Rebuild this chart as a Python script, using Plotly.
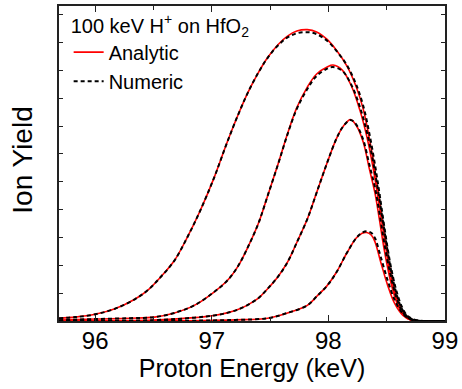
import plotly.graph_objects as go

# Energy grids (keV) and ion yields (arb. units) for the four depth spectra
E1 = [95.69, 95.83, 96.0, 96.17, 96.34, 96.45, 96.56, 96.68, 96.79, 96.90,
      97.02, 97.13, 97.23, 97.31, 97.40, 97.48, 97.57, 97.65, 97.73, 97.82,
      97.90, 97.99, 98.07, 98.16, 98.24, 98.30, 98.35, 98.40, 98.44, 98.48,
      98.53, 98.58, 98.63, 98.68, 98.74, 98.82, 99.0]
A1 = [0.10, 0.14, 0.24, 0.44, 0.78, 1.10, 1.57, 2.17, 3.0, 3.95,
      5.14, 6.39, 7.44, 8.20, 8.92, 9.46, 9.93, 10.23, 10.41, 10.46,
      10.38, 10.11, 9.72, 9.15, 8.4, 7.6, 6.6, 5.4, 4.3, 3.1,
      1.85, 0.95, 0.4, 0.13, 0.03, 0.0, 0.0]
N1 = [0.10, 0.14, 0.24, 0.44, 0.78, 1.10, 1.57, 2.17, 3.0, 3.95,
      5.14, 6.39, 7.44, 8.20, 8.92, 9.45, 9.90, 10.18, 10.33, 10.37,
      10.30, 10.06, 9.70, 9.18, 8.48, 7.72, 6.78, 5.62, 4.55, 3.4,
      2.1, 1.15, 0.52, 0.18, 0.05, 0.0, 0.0]

E2 = [95.69, 96.0, 96.3, 96.51, 96.68, 96.85, 97.02, 97.14, 97.23, 97.31,
      97.40, 97.48, 97.57, 97.65, 97.73, 97.82, 97.90, 97.99, 98.04, 98.12,
      98.20, 98.27, 98.33, 98.38, 98.43, 98.48, 98.53, 98.58, 98.63, 98.68,
      98.74, 98.82, 99.0]
A2 = [0.03, 0.07, 0.10, 0.14, 0.29, 0.56, 1.04, 1.48, 2.0, 2.65,
      3.5, 4.5, 5.65, 6.72, 7.66, 8.40, 8.87, 9.12, 9.19, 9.01,
      8.42, 7.58, 6.63, 5.6, 4.35, 3.0, 1.75, 0.88, 0.36, 0.11,
      0.02, 0.0, 0.0]
N2 = [0.03, 0.07, 0.10, 0.14, 0.29, 0.56, 1.04, 1.48, 2.0, 2.65,
      3.5, 4.5, 5.64, 6.70, 7.62, 8.33, 8.80, 9.06, 9.12, 8.98,
      8.46, 7.70, 6.80, 5.82, 4.6, 3.28, 2.0, 1.05, 0.45, 0.15,
      0.03, 0.0, 0.0]

E3 = [95.69, 96.5, 96.85, 97.02, 97.14, 97.23, 97.31, 97.40, 97.48, 97.57,
      97.65, 97.73, 97.82, 97.90, 97.99, 98.07, 98.13, 98.19, 98.24, 98.30,
      98.35, 98.40, 98.44, 98.48, 98.53, 98.58, 98.63, 98.68, 98.74, 98.82,
      99.0]
A3 = [0.01, 0.03, 0.12, 0.2, 0.3, 0.42, 0.58, 0.82, 1.16, 1.6,
      2.11, 2.82, 3.66, 4.61, 5.68, 6.55, 7.0, 7.23, 7.02, 6.42,
      5.5, 4.6, 3.6, 2.55, 1.5, 0.75, 0.3, 0.09, 0.02, 0.0,
      0.0]
N3 = [0.01, 0.03, 0.12, 0.2, 0.3, 0.42, 0.58, 0.82, 1.16, 1.6,
      2.11, 2.82, 3.66, 4.61, 5.68, 6.55, 7.0, 7.22, 7.05, 6.50,
      5.65, 4.8, 3.85, 2.8, 1.72, 0.9, 0.38, 0.12, 0.03, 0.0,
      0.0]

E4 = [95.69, 96.8, 97.2, 97.48, 97.65, 97.82, 97.90, 97.99, 98.07, 98.16,
      98.24, 98.29, 98.33, 98.37, 98.40, 98.45, 98.51, 98.57, 98.64, 98.71,
      98.8, 99.0]
A4 = [0.0, 0.01, 0.04, 0.1, 0.29, 0.56, 0.88, 1.27, 1.75, 2.45,
      2.98, 3.15, 3.18, 3.08, 2.85, 2.11, 1.27, 0.62, 0.2, 0.03,
      0.0, 0.0]
N4 = [0.0, 0.01, 0.04, 0.1, 0.29, 0.56, 0.88, 1.27, 1.75, 2.45,
      2.98, 3.17, 3.22, 3.16, 2.98, 2.3, 1.45, 0.75, 0.26, 0.05,
      0.0, 0.0]

X_TICKS = [96, 97, 98, 99]

series = [(E1, A1, N1), (E2, A2, N2), (E3, A3, N3), (E4, A4, N4)]

FONT = "Liberation Sans, Arial, sans-serif"
AXIS_COLOR = "#222222"

fig = go.Figure()

for i, (e, a, _) in enumerate(series):
    fig.add_trace(go.Scatter(
        x=e, y=a, mode="lines", name="Analytic", legendgroup="a",
        showlegend=(i == 0),
        line=dict(color="#ff0000", width=1.6, shape="spline", smoothing=1.0),
    ))
for i, (e, _, n) in enumerate(series):
    fig.add_trace(go.Scatter(
        x=e, y=n, mode="lines", name="Numeric", legendgroup="n",
        showlegend=(i == 0),
        line=dict(color="#000000", width=2, dash="4px,3px", shape="spline", smoothing=1.0),
    ))

axis_common = dict(
    showline=True, linecolor=AXIS_COLOR, linewidth=1.5, mirror="ticks",
    ticks="inside", tickcolor=AXIS_COLOR, showgrid=False, zeroline=False,
)

fig.update_layout(
    width=462, height=389,
    margin=dict(l=59, r=12, t=4, b=68),
    paper_bgcolor="white", plot_bgcolor="white",
    font=dict(family=FONT, color="#000000"),
    xaxis=dict(
        range=[95.69, 99.001], tickvals=X_TICKS, ticktext=[str(t) for t in X_TICKS],
        ticklen=6, tickwidth=1.2, ticklabeloverflow="allow", ticklabelstandoff=-3,
        tickfont=dict(size=24),
        minor=dict(dtick=0.5, ticks="inside", ticklen=4, tickcolor=AXIS_COLOR, showgrid=False),
        title=dict(text="Proton Energy (keV)", font=dict(size=25), standoff=0),
        **axis_common,
    ),
    yaxis=dict(
        range=[0, 11.31], dtick=1, tick0=0, ticklen=4, tickwidth=1.2,
        showticklabels=False,
        **axis_common,
    ),
    legend=dict(
        x=0.025, y=0.998, xanchor="left", yanchor="top",
        bgcolor="rgba(0,0,0,0)", borderwidth=0,
        font=dict(size=20),
        title=dict(text="100 keV H<sup>+</sup> on HfO<sub>2</sub>", font=dict(size=20)),
        tracegroupgap=0,
    ),
)

# y-axis label, set further out than the default title position
fig.add_annotation(
    text="Ion Yield", textangle=-90, font=dict(size=28),
    xref="paper", yref="paper", x=-0.095, y=0.51,
    xanchor="center", yanchor="middle", showarrow=False,
)

fig.write_html("out.html")
